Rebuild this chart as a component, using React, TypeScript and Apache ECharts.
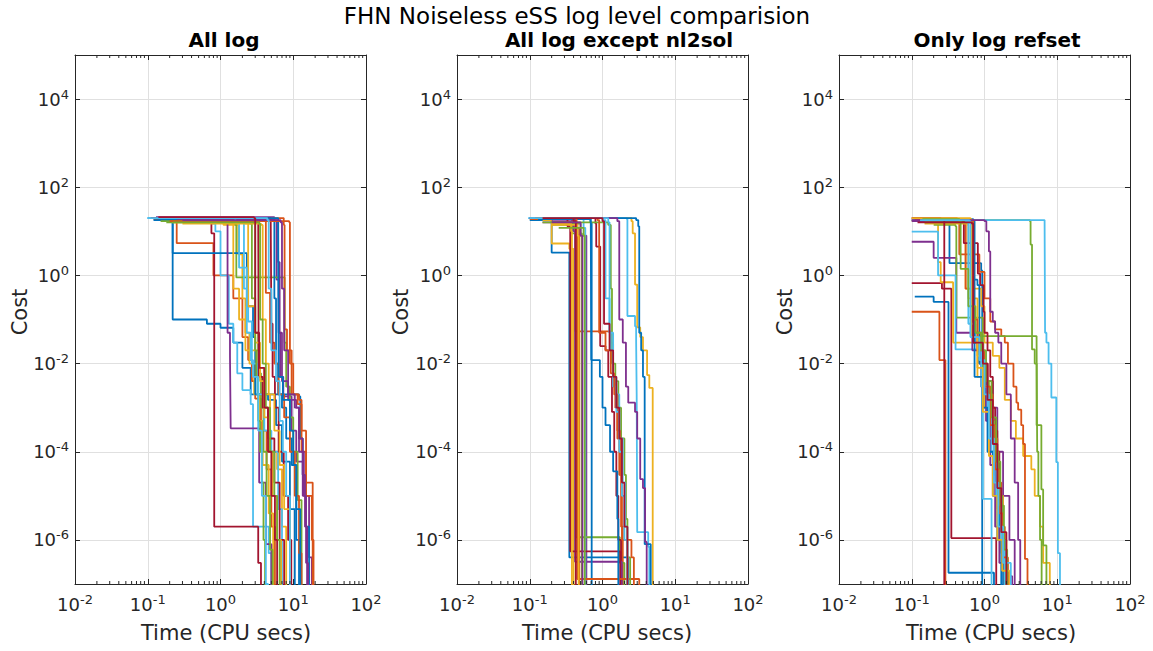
import React, { useEffect, useRef } from 'react';
import * as echarts from 'echarts';

// ---------------- data ----------------
const COLORS = ['#0072BD', '#D95319', '#EDB120', '#7E2F8E', '#77AC30', '#4DBEEE', '#A2142F'];
const TITLE = 'FHN Noiseless eSS log level comparision';
const PANEL_TITLES = ['All log', 'All log except nl2sol', 'Only log refset'];
const X_LABEL = 'Time (CPU secs)';
const Y_LABEL = 'Cost';
const X_TICK_EXPONENTS = [-2, -1, 0, 1, 2];
const Y_TICK_EXPONENTS = [-6, -4, -2, 0, 2, 4];
const X_RANGE_EXP = [-2, 2];
const Y_RANGE_EXP = [-7, 5];

type Run = [number, number][]; // [time (s), cost]

const allLog: Run[] = [
  [[0.1, 20], [0.22, 0.1], [0.65, 0.08], [1.0, 0.065], [1.5, 0.03], [2.0, 8e-3], [2.6, 2e-3], [4.5, 1.5e-3], [5.8, 4e-4], [7, 6e-5], [9, 5e-6], [10.5, 1e-8]],
  [[0.12, 19], [0.25, 5.4], [0.8, 1.0], [1.5, 0.3], [2.0, 0.04], [2.4, 0.012], [2.7, 4e-3], [3.0, 1.6e-3], [3.6, 3e-4], [4.3, 4e-5], [5, 2e-6], [5.6, 1e-8]],
  [[0.15, 20], [1.1, 14], [1.75, 3], [2.0, 0.3], [2.2, 0.05], [2.5, 0.01], [2.9, 2e-3], [3.4, 5e-4], [3.8, 5e-5], [4.6, 4e-6], [5.3, 1e-8]],
  [[0.13, 21], [5.5, 17], [5.9, 0.8], [6.3, 0.05], [6.6, 5e-3], [7.3, 1.8e-3], [9.5, 3e-4], [11, 6e-5], [13.5, 1e-5], [16.5, 4e-7], [18, 1e-8]],
  [[0.2, 17], [1.6, 14], [1.65, 0.9], [7.4, 0.9], [7.6, 0.03], [8, 3e-3], [9, 6e-4], [10, 1e-4], [11.5, 8e-6], [13, 1e-8]],
  [[0.1, 20], [0.75, 15], [0.85, 10], [1.0, 1.0], [1.3, 0.08], [1.5, 0.03], [1.7, 6e-3], [2.0, 2.5e-3], [2.6, 1.2e-3], [2.8, 2e-6], [4.6, 5e-7], [5, 1e-8]],
  [[0.13, 20], [0.75, 9], [0.82, 2e-6], [3.3, 3e-7], [3.6, 1e-8]],
  [[0.12, 18], [0.22, 3.2], [2.3, 0.2], [2.8, 0.04], [3.0, 2e-3], [12, 1.8e-3], [12.5, 2e-4], [13.5, 3e-5], [15, 2e-6], [16.5, 1e-8]],
  [[0.14, 20], [7.4, 14], [7.6, 0.06], [8.2, 0.02], [9.5, 2e-3], [12, 1.5e-3], [13, 1e-4], [15, 1e-5], [18, 1e-6], [19, 1e-8]],
  [[0.16, 19], [1.3, 18], [1.5, 0.5], [1.8, 0.1], [2.2, 0.02], [3.4, 8e-3], [4, 2e-3], [4.8, 1e-4], [6, 4e-5], [7, 2e-6], [8, 1e-8]],
  [[0.2, 18], [1.2, 16], [1.25, 0.05], [1.35, 0.015], [1.38, 3.4e-4], [2.9, 3.4e-4], [3.4, 2e-5], [4.2, 8e-7], [5, 1e-8]],
  [[0.18, 16], [2.5, 15], [2.7, 0.3], [3, 0.05], [3.3, 6e-3], [3.6, 1e-3], [3.9, 1e-4], [4.3, 1e-5], [4.8, 6e-7], [5.2, 1e-8]],
  [[0.1, 20], [1.9, 19], [2.1, 0.5], [2.4, 0.09], [2.7, 0.01], [3.2, 2e-3], [4.0, 3e-4], [5, 1e-4], [5.5, 1e-4], [6.2, 5e-6], [7, 1e-8]],
  [[0.15, 20], [3.3, 19], [3.35, 5e-3], [3.8, 1e-3], [4.5, 2e-4], [5.5, 2e-5], [6.5, 1e-6], [7.5, 1e-8]],
  [[0.14, 19], [5.3, 18], [5.5, 0.3], [5.8, 0.01], [6.2, 2e-3], [7, 1e-3], [8, 2e-4], [9.5, 5e-5], [11, 1e-6], [12, 1e-8]],
  [[0.2, 20], [4.0, 19], [4.2, 0.4], [4.8, 0.03], [5.5, 1e-2], [6.3, 2e-3], [7.5, 6e-4], [9, 1e-4], [10.5, 1e-5], [12, 5e-7], [13, 1e-8]],
  [[0.22, 16], [2.2, 15], [2.4, 0.2], [3, 0.03], [3.5, 4e-3], [4.0, 6e-4], [4.6, 1e-4], [5.2, 1e-5], [6, 1e-6], [6.8, 1e-8]],
  [[0.25, 18], [6, 17], [6.2, 2], [6.5, 0.05], [7, 4e-3], [8.5, 1.5e-3], [11, 1e-3], [12, 1e-4], [14, 1e-5], [15, 3e-7], [16, 1e-8]],
  [[0.15, 17], [2.9, 15], [3.0, 2e-2], [3.1, 5e-3], [3.3, 5e-4], [3.5, 1e-4], [3.7, 2e-5], [3.9, 1e-6], [4.1, 1e-8]],
  [[0.1, 20], [1.6, 17], [1.8, 1.5], [2.3, 0.05], [2.6, 0.012], [2.8, 5e-3], [3.3, 3e-4], [3.7, 1e-5], [4.2, 1e-7], [4.5, 1e-8]],
  [[0.11, 20], [4.9, 19], [5.0, 0.08], [5.2, 5e-3], [5.6, 1e-3], [6.3, 1e-4], [7.4, 1e-5], [8.5, 1e-6], [9.4, 1e-8]],
  [[0.13, 20], [6.2, 19], [6.3, 5e-3], [7.2, 1.5e-3], [9, 3e-4], [10, 5e-5], [11, 5e-6], [12.5, 1e-8]],
  [[0.2, 17], [8.8, 16], [9, 1e-2], [10, 2e-3], [11.5, 1.2e-3], [13, 3e-4], [15, 2e-5], [18.5, 1e-8]],
  [[0.3, 15], [3.6, 14], [3.8, 0.1], [4.2, 0.01], [4.6, 2e-3], [5.5, 3e-4], [6.5, 5e-5], [7.5, 5e-6], [9, 1e-8]],
  [[0.3, 18], [6.7, 16], [7, 0.5], [7.5, 0.02], [8.5, 2e-3], [10.5, 1e-3], [12, 2e-4], [13.5, 3e-5], [14.5, 2e-6], [15.5, 1e-8]],
  [[0.22, 16], [3.4, 15], [3.5, 0.1], [3.8, 0.01], [4.2, 1e-3], [4.8, 1e-4], [5.5, 1e-5], [6, 1e-6], [6.5, 1e-8]],
  [[0.1, 20], [4.4, 18], [4.6, 0.5], [5, 0.02], [5.8, 4e-3], [6.5, 5e-4], [7.2, 1e-4], [8, 1e-5], [9, 1e-8]],
  [[0.14, 21], [2.9, 20], [3.0, 0.05], [3.4, 8e-3], [4, 1e-3], [4.5, 1e-4], [5, 1e-5], [5.6, 1e-6], [6, 1e-8]],
];

const exceptNl2sol: Run[] = [
  [[0.1, 18], [0.2, 3.3], [0.35, 4e-7], [2.25, 1e-8]],
  [[0.12, 20], [0.4, 18], [0.42, 0.054], [1.3, 0.03], [1.4, 5e-3], [1.5, 1e-3], [1.6, 2e-4], [1.7, 3e-5], [1.8, 2e-6], [1.9, 1e-8]],
  [[0.1, 20], [2.5, 17], [2.6, 9], [2.8, 0.62], [3.0, 0.066], [3.3, 0.04], [3.6, 0.02], [4.1, 5.5e-3], [4.4, 2.8e-3], [4.9, 1e-8]],
  [[0.15, 16], [0.45, 8], [0.6, 1e-8]],
  [[0.2, 14], [0.38, 9], [0.43, 1.15e-6], [1.73, 3e-7], [2.0, 1e-8]],
  [[0.095, 20], [2.15, 19], [2.2, 0.12], [2.8, 0.07], [2.9, 0.03], [2.95, 2e-3], [3.0, 1.5e-6], [4.25, 7e-7], [4.4, 1e-8]],
  [[0.13, 20], [0.8, 15], [0.82, 4.5], [0.93, 0.025], [1.1, 0.02], [1.2, 5e-3], [1.35, 8e-4], [1.45, 1e-4], [1.55, 1e-5], [1.65, 1e-6], [1.8, 1e-8]],
  [[0.1, 20], [2.9, 18], [3.1, 13], [3.2, 0.05], [3.4, 0.02], [3.6, 5e-3], [3.8, 8e-7], [4.6, 1e-8]],
  [[0.1, 19], [0.38, 15], [0.4, 12], [0.48, 1e-8]],
  [[0.15, 18], [0.2, 5.3], [0.35, 4], [0.4, 1e-8]],
  [[0.2, 17], [0.4, 10], [0.42, 3.2e-7], [1.84, 1e-8]],
  [[0.25, 15], [0.5, 9], [0.52, 1e-8]],
  [[0.1, 20], [0.55, 12], [0.58, 1e-8]],
  [[0.12, 20], [0.33, 13], [0.36, 5.5e-7], [1.75, 1e-8]],
  [[0.13, 19], [0.68, 16], [0.71, 1e-8]],
  [[0.12, 20], [0.44, 16], [0.45, 1.3e-7], [3.2, 1e-8]],
  [[0.2, 14], [0.45, 8], [0.47, 1e-8]],
  [[0.1, 20], [1.6, 17], [1.7, 0.1], [1.9, 0.03], [2.1, 3e-3], [2.26, 1.3e-3], [2.8, 8e-4], [3.0, 2e-4], [3.3, 2.4e-5], [3.6, 1.5e-5], [3.85, 9e-7], [4.05, 1e-8]],
  [[0.15, 16], [1.2, 14], [1.3, 0.5], [1.35, 0.01], [1.5, 4e-3], [1.65, 1e-3], [1.8, 2e-4], [2.0, 3e-5], [2.1, 3e-6], [2.2, 4e-7], [2.4, 1e-8]],
  [[0.1, 20], [1.0, 18], [1.1, 0.3], [1.25, 0.05], [1.3, 0.02], [1.4, 3e-3], [1.55, 2e-3], [1.7, 2e-4], [1.9, 2e-5], [2.05, 2e-6], [2.2, 1e-8]],
  [[0.14, 20], [0.4, 17], [0.43, 1e-8]],
  [[0.12, 20], [0.69, 17], [0.7, 0.012], [0.92, 5e-3], [1.0, 1e-3], [1.1, 4e-4], [1.27, 1e-4], [1.4, 3.6e-5], [1.6, 3e-6], [1.65, 1e-8]],
  [[0.12, 20], [0.85, 18], [0.9, 0.05], [1.1, 0.02], [1.3, 6e-3], [1.45, 2e-3], [1.6, 3e-4], [1.75, 3e-5], [1.85, 1e-6], [2.5, 4e-7], [2.7, 1e-8]],
  [[0.2, 15], [0.37, 10], [0.38, 1e-8]],
  [[0.2, 16], [0.5, 8], [0.53, 1e-8]],
  [[0.25, 12], [0.55, 8], [0.57, 1e-8]],
  [[0.1, 20], [1.2, 16], [1.25, 0.05], [1.4, 5e-3], [1.55, 8e-4], [1.7, 1e-4], [1.85, 1e-5], [2.0, 1e-6], [2.2, 1e-8]],
  [[0.15, 20], [1.0, 17], [1.05, 0.08], [1.25, 0.02], [1.4, 5e-3], [1.55, 1e-3], [1.7, 2e-4], [1.85, 2e-5], [2.0, 2e-6], [2.2, 1e-8]],
];

const onlyRefset: Run[] = [
  [[0.1, 18], [0.3, 17], [0.33, 1.9], [0.9, 1.3], [0.93, 1e-8]],
  [[0.1, 0.15], [0.24, 0.012], [0.29, 1e-8]],
  [[0.1, 17], [0.5, 16], [0.55, 0.5], [0.9, 0.2], [1.0, 0.03], [1.3, 0.015], [1.6, 8e-3], [1.9, 1.5e-3], [2.3, 5e-4], [2.7, 2e-4], [3.4, 8e-5], [4.4, 4e-5], [4.9, 1e-5], [5.8, 2e-6], [6.4, 3e-7], [7.9, 1e-8]],
  [[0.1, 5.8], [0.2, 2.5], [0.41, 0.05], [0.7, 0.03], [0.9, 0.01], [1.1, 4e-3], [1.3, 1e-3], [1.5, 1e-4], [1.8, 1e-5], [2.2, 1e-6], [2.6, 1e-8]],
  [[0.12, 18], [4.2, 17], [4.3, 5], [4.5, 0.021], [4.9, 0.01], [5.2, 4e-4], [6.05, 1.4e-5], [6.4, 7.5e-7], [7.1, 1e-8]],
  [[0.13, 18], [6.7, 17], [6.8, 0.05], [7.1, 0.03], [7.6, 0.01], [8.3, 1.7e-3], [9.7, 5.8e-5], [10.2, 5e-7], [10.9, 1e-8]],
  [[0.1, 0.67], [0.26, 0.5], [0.35, 1.1e-6], [1.45, 1e-8]],
  [[0.11, 0.33], [0.2, 0.25], [0.32, 1.8e-7], [1.35, 1e-8]],
  [[0.12, 19], [0.5, 17], [0.55, 3], [0.85, 1.2], [1.0, 0.3], [1.2, 0.09], [1.4, 0.06], [1.7, 0.042], [1.9, 0.03], [2.1, 0.01], [2.5, 3e-3], [2.75, 1.3e-3], [2.9, 9e-4], [3.2, 4e-4], [3.4, 1.5e-4], [3.6, 3.7e-7], [3.9, 1e-8]],
  [[0.1, 18], [0.23, 2], [0.25, 0.7], [0.37, 0.03], [0.8, 5e-3], [1.0, 1e-3], [1.2, 1e-4], [1.5, 1e-5], [1.8, 1e-6], [2.0, 1e-8]],
  [[0.1, 17], [0.62, 16], [0.65, 0.05], [0.85, 0.01], [1.0, 3e-3], [1.2, 5e-4], [1.4, 5e-5], [1.6, 5e-6], [1.8, 5e-7], [2.0, 1.5e-7], [2.4, 1e-8]],
  [[0.2, 14], [0.4, 13], [0.41, 0.11], [0.95, 0.042], [5.2, 0.03], [5.3, 1e-4], [5.5, 1e-5], [5.8, 1e-6], [6.1, 1e-8]],
  [[0.1, 9.9], [0.23, 1.0], [0.4, 0.021], [0.95, 8.5e-6], [1.25, 1e-8]],
  [[0.12, 18], [0.5, 17], [0.52, 5.4], [0.81, 1.1], [0.87, 0.6], [0.97, 0.15], [1.0, 0.05], [1.1, 0.02], [1.2, 5e-3], [1.3, 1e-3], [1.4, 3e-4], [1.5, 1e-4], [1.6, 1e-5], [1.75, 1e-6], [1.9, 1e-8]],
  [[0.11, 18], [0.6, 17], [0.65, 0.8], [0.8, 0.6], [0.85, 0.01], [1.05, 1e-3], [1.2, 3e-4], [1.35, 3e-5], [1.6, 1e-6], [1.8, 1e-8]],
  [[0.1, 20], [0.42, 18], [0.45, 3], [0.55, 0.5], [0.7, 0.05], [0.9, 0.01], [1.1, 2e-3], [1.3, 2e-4], [1.5, 2e-5], [1.7, 2e-6], [1.9, 2e-7], [2.1, 1e-8]],
  [[0.15, 15], [0.58, 14], [0.6, 0.3], [0.8, 0.015], [1.0, 3e-3], [1.2, 5e-4], [1.35, 5e-5], [1.5, 5e-6], [1.7, 5e-7], [1.9, 1e-8]],
  [[0.12, 18], [0.66, 17], [0.68, 0.02], [0.9, 3e-3], [1.05, 5e-4], [1.2, 5e-5], [1.4, 2e-6], [1.6, 3e-7], [1.9, 1e-8]],
  [[0.15, 16], [0.7, 15], [0.72, 0.04], [0.95, 4e-3], [1.15, 5e-4], [1.35, 1e-4], [1.55, 1e-5], [1.75, 1e-6], [1.95, 1e-8]],
  [[0.1, 18], [0.55, 17], [0.6, 0.08], [0.75, 0.03], [0.9, 3e-3], [1.1, 1e-3], [1.25, 1e-4], [1.45, 1e-5], [1.7, 1e-6], [1.9, 1e-8]],
  [[0.1, 20], [0.25, 18], [0.28, 1e-8]],
  [[0.12, 19], [0.7, 17], [0.73, 5e-3], [0.95, 1e-3], [1.1, 1e-4], [1.3, 1e-5], [1.5, 1e-6], [1.7, 1e-8]],
  [[0.11, 19], [0.65, 18], [0.7, 0.1], [0.8, 0.02], [1.0, 3e-3], [1.2, 4e-4], [1.4, 4e-5], [1.6, 4e-6], [1.8, 4e-7], [2.1, 1e-8]],
  [[0.1, 20], [0.64, 19], [0.66, 0.04], [0.8, 8e-3], [0.95, 8e-4], [1.15, 8e-5], [1.3, 1e-5], [1.5, 1e-6], [1.75, 2e-7], [2.2, 1e-8]],
  [[0.1, 18], [1.0, 17], [1.06, 10], [1.15, 3.5], [1.2, 0.15], [1.3, 0.09], [1.4, 0.05], [1.55, 0.03], [1.7, 0.01], [2.0, 2e-3], [2.3, 2e-4], [2.6, 2e-5], [2.9, 1e-6], [3.1, 1e-8]],
  [[0.14, 19], [0.45, 17], [0.47, 1.4], [0.6, 0.2], [0.75, 0.05], [0.9, 0.02], [1.05, 4e-3], [1.25, 6e-4], [1.45, 6e-5], [1.65, 6e-6], [1.85, 6e-7], [2.05, 1e-8]],
  [[0.13, 18], [0.62, 17], [0.64, 0.04], [0.85, 0.012], [1.0, 2e-3], [1.15, 2e-4], [1.35, 2e-5], [1.55, 2e-6], [1.8, 3e-7], [2.3, 1e-8]],
  [[0.12, 16], [0.67, 15], [0.7, 0.03], [0.95, 0.01], [1.1, 1.5e-3], [1.3, 1.5e-4], [1.5, 1.5e-5], [1.7, 1.5e-6], [2.0, 1e-8]],
];

const PANELS: Run[][] = [allLog, exceptNl2sol, onlyRefset];

// ---------------- layout ----------------
const GRID_LEFTS = [75, 457, 839];
const GRID_TOP = 55;
const GRID_W = 291;
const GRID_H = 529;
const PANEL_TITLE_X = [224, 619, 997];
const X_NAME_X = [226, 607, 991];
const Y_NAME_X = [20, 401, 785];

const FONT = '"DejaVu Sans", Verdana, sans-serif';
const AX = '#262626';

const rich = {
  b: { fontSize: 18, fontFamily: FONT, color: AX },
  s: { fontSize: 13, fontFamily: FONT, color: AX, padding: [0, 0, 10, 0] },
};

const xFmt = (v: number) => {
  const e = Math.round(v);
  if (Math.abs(v - e) > 1e-6 || !X_TICK_EXPONENTS.includes(e)) return '';
  return `{b|10}{s|${e}}`;
};
const yFmt = (v: number) => {
  const e = Math.round(v);
  if (Math.abs(v - e) > 1e-6 || !Y_TICK_EXPONENTS.includes(e)) return '';
  return `{b|10}{s|${e}}`;
};

function buildOption() {
  const grid: any[] = [];
  const xAxis: any[] = [];
  const yAxis: any[] = [];
  const series: any[] = [];
  const graphic: any[] = [];

  const minorTicks: number[][] = [];
  for (let d = X_RANGE_EXP[0]; d < X_RANGE_EXP[1]; d++) {
    for (let k = 2; k <= 9; k++) minorTicks.push([d + Math.log10(k), 0]);
  }

  PANELS.forEach((runs, p) => {
    grid.push({ left: GRID_LEFTS[p], top: GRID_TOP, width: GRID_W, height: GRID_H, containLabel: false });
    const axLine = { show: true, onZero: false, lineStyle: { color: AX, width: 1 } };
    const tick = { show: true, inside: true, length: 5, lineStyle: { color: AX, width: 1 } };
    xAxis.push({
      gridIndex: p, type: 'value', position: 'bottom', min: X_RANGE_EXP[0], max: X_RANGE_EXP[1], interval: 1,
      axisLine: axLine, axisTick: tick,
      axisLabel: { formatter: xFmt, rich, margin: 9 },
      splitLine: { show: true, lineStyle: { color: '#e0e0e0', width: 1 } },
    });
    xAxis.push({
      gridIndex: p, type: 'value', position: 'top', min: X_RANGE_EXP[0], max: X_RANGE_EXP[1], interval: 1,
      axisLine: axLine, axisTick: tick, axisLabel: { show: false }, splitLine: { show: false },
    });
    yAxis.push({
      gridIndex: p, type: 'value', position: 'left', min: Y_RANGE_EXP[0], max: Y_RANGE_EXP[1], splitNumber: 6,
      axisLine: axLine, axisTick: tick,
      axisLabel: { formatter: yFmt, rich, margin: 6 },
      splitLine: { show: true, lineStyle: { color: '#e0e0e0', width: 1 } },
    });
    yAxis.push({
      gridIndex: p, type: 'value', position: 'right', min: Y_RANGE_EXP[0], max: Y_RANGE_EXP[1], splitNumber: 6,
      axisLine: axLine, axisTick: tick, axisLabel: { show: false }, splitLine: { show: false },
    });

    runs.forEach((run, k) => {
      const color = COLORS[k % COLORS.length];
      series.push({
        type: 'line', xAxisIndex: 2 * p, yAxisIndex: 2 * p, step: 'end',
        symbol: 'none', showSymbol: false, silent: true, clip: true,
        data: run.map(([t, c]) => [Math.log10(t), Math.log10(c)]),
        lineStyle: { color, width: 1.8 }, itemStyle: { color }, z: 3,
      });
    });

    series.push({
      type: 'custom', xAxisIndex: 2 * p, yAxisIndex: 2 * p, silent: true, z: 5,
      data: minorTicks,
      renderItem: (_params: any, api: any) => {
        const x = api.value(0);
        const b = api.coord([x, Y_RANGE_EXP[0]]);
        const t = api.coord([x, Y_RANGE_EXP[1]]);
        return {
          type: 'group',
          children: [
            { type: 'line', shape: { x1: b[0], y1: b[1], x2: b[0], y2: b[1] - 3 }, style: { stroke: AX, lineWidth: 1 } },
            { type: 'line', shape: { x1: t[0], y1: t[1], x2: t[0], y2: t[1] + 3 }, style: { stroke: AX, lineWidth: 1 } },
          ],
        };
      },
    });

    graphic.push({
      type: 'text', x: PANEL_TITLE_X[p], y: 40, silent: true,
      style: { text: PANEL_TITLES[p], font: `bold 20px ${FONT}`, fill: '#000', textAlign: 'center', textVerticalAlign: 'middle', align: 'center', verticalAlign: 'middle' },
    });
    graphic.push({
      type: 'text', x: X_NAME_X[p], y: 633, silent: true,
      style: { text: X_LABEL, font: `21px ${FONT}`, fill: AX, textAlign: 'center', textVerticalAlign: 'middle', align: 'center', verticalAlign: 'middle' },
    });
    graphic.push({
      type: 'text', x: Y_NAME_X[p], y: 312, rotation: Math.PI / 2, silent: true,
      style: { text: Y_LABEL, font: `21px ${FONT}`, fill: AX, textAlign: 'center', textVerticalAlign: 'middle', align: 'center', verticalAlign: 'middle' },
    });
  });

  graphic.push({
    type: 'text', x: 577, y: 16, silent: true,
    style: { text: TITLE, font: `23px ${FONT}`, fill: '#000', textAlign: 'center', textVerticalAlign: 'middle', align: 'center', verticalAlign: 'middle' },
  });

  return {
    animation: false,
    backgroundColor: '#ffffff',
    textStyle: { fontFamily: FONT },
    grid, xAxis, yAxis, series, graphic,
  };
}

export default function App() {
  const ref = useRef<HTMLDivElement>(null);
  useEffect(() => {
    document.body.style.margin = '0';
    if (!ref.current) return;
    const chart = echarts.init(ref.current, undefined, { renderer: 'svg' });
    chart.setOption(buildOption() as any);
    return () => chart.dispose();
  }, []);
  return <div ref={ref} style={{ width: 1153, height: 651 }} />;
}
